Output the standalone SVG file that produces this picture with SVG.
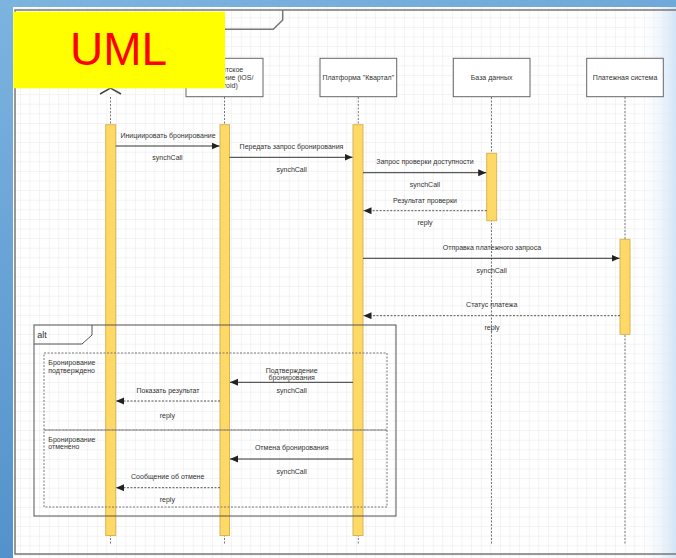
<svg xmlns="http://www.w3.org/2000/svg" width="676" height="558" viewBox="0 0 676 558">
<defs>
<linearGradient id="bg" x1="0" y1="0" x2="0.3" y2="1">
<stop offset="0" stop-color="#7db3df"/>
<stop offset="1" stop-color="#4f8fca"/>
</linearGradient>
<linearGradient id="fade" x1="0" y1="0" x2="1" y2="0">
<stop offset="0" stop-color="#ffffff" stop-opacity="0"/>
<stop offset="1" stop-color="#d2e4f6" stop-opacity="1"/>
</linearGradient>
<pattern id="grid" width="9.6" height="9.6" patternUnits="userSpaceOnUse" x="0.7" y="7.7">
<path d="M0,0 H9.6 M0,0 V9.6" fill="none" stroke="#e8e8e8" stroke-width="1"/>
</pattern>
<marker id="ah" markerWidth="9" markerHeight="8" refX="8" refY="3.5" orient="auto" markerUnits="userSpaceOnUse">
<path d="M0,0 L8,3.5 L0,7 z" fill="#222"/>
</marker>
</defs>
<style>
.lbl{font-family:"Liberation Sans",Arial,sans-serif;font-size:7px;fill:#333;text-anchor:middle}
.lbll{font-family:"Liberation Sans",Arial,sans-serif;font-size:7px;fill:#333}
.box{fill:#fff;stroke:#666;stroke-width:1}
.life{stroke:#777;stroke-width:1;stroke-dasharray:2 1.5;fill:none}
.act{fill:#ffd966;stroke:#d6b656;stroke-width:1}
.sync{stroke:#333;stroke-width:1;fill:none;marker-end:url(#ah)}
.reply{stroke:#555;stroke-width:1;stroke-dasharray:2 1.5;fill:none;marker-end:url(#ah)}
.op{fill:none;stroke:#777;stroke-width:1;stroke-dasharray:2 1.5}
</style>
<rect x="0" y="0" width="676" height="558" fill="url(#bg)"/>
<rect x="13" y="7" width="663" height="551" fill="#ffffff"/>
<rect x="13" y="7" width="663" height="551" fill="url(#grid)"/>
<rect x="636" y="7" width="40" height="551" fill="url(#fade)"/>

<g id="frame">
<path d="M676,10 H15 V554 H676" fill="none" stroke="#777" stroke-width="1.5"/>
<path d="M15,29.3 H273.3 L282.7,20 V10" fill="none" stroke="#777" stroke-width="1.5"/>
</g>

<g id="lifelines">
<line class="life" x1="110.5" y1="97" x2="110.5" y2="545"/>
<line class="life" x1="224.5" y1="97" x2="224.5" y2="545"/>
<line class="life" x1="358.3" y1="97" x2="358.3" y2="545"/>
<line class="life" x1="491.5" y1="97" x2="491.5" y2="545"/>
<line class="life" x1="625" y1="97" x2="625" y2="545"/>
</g>

<g id="actor">
<path d="M100,94 L110.5,88 L121,94" fill="none" stroke="#444" stroke-width="1.5"/>
</g>

<g id="node-app">
<rect class="box" x="186" y="58.3" width="77" height="38.4"/>
<text class="lbl" x="224.5" y="71.5">Клиентское</text>
<text class="lbl" x="224.5" y="80">приложение (iOS/</text>
<text class="lbl" x="224.5" y="87.8">Android)</text>
</g>
<g id="node-platform">
<rect class="box" x="320" y="58.3" width="76.7" height="38.4"/>
<text class="lbl" x="358.3" y="80.2">Платформа "Квартал"</text>
</g>
<g id="node-db">
<rect class="box" x="453.3" y="58.3" width="76.7" height="38.4"/>
<text class="lbl" x="491.6" y="80.2">База данных</text>
</g>
<g id="node-pay">
<rect class="box" x="586.7" y="58.3" width="76.6" height="38.4"/>
<text class="lbl" x="625" y="80.2">Платежная система</text>
</g>

<g id="activations">
<rect class="act" x="105.7" y="124.7" width="10" height="410.8"/>
<rect class="act" x="220" y="124.7" width="9.5" height="410.8"/>
<rect class="act" x="353" y="124.7" width="10" height="410.8"/>
<rect class="act" x="486.7" y="153.3" width="10" height="67.4"/>
<rect class="act" x="620" y="239.3" width="10" height="95"/>
</g>

<g id="alt-frame">
<rect x="34" y="325" width="362" height="191" fill="none" stroke="#555" stroke-width="1"/>
<path d="M34,344 H82 L92,335 V325" fill="none" stroke="#555" stroke-width="1"/>
<text class="lbll" x="37.3" y="337.5" style="font-size:9px">alt</text>
<rect class="op" x="44" y="353" width="343" height="77"/>
<rect class="op" x="44" y="430" width="343" height="77"/>
<text class="lbll" x="48.3" y="365">Бронирование</text>
<text class="lbll" x="48.3" y="372.6">подтверждено</text>
<text class="lbll" x="48.3" y="441.5">Бронирование</text>
<text class="lbll" x="48.3" y="448.8">отменено</text>
</g>

<g id="connectors">
<line class="sync" x1="115.7" y1="146" x2="219.5" y2="146"/>
<text class="lbl" x="168" y="137.5">Инициировать бронирование</text>
<text class="lbl" x="167.5" y="159.8">synchCall</text>

<line class="sync" x1="229.5" y1="157.3" x2="352.5" y2="157.3"/>
<text class="lbl" x="291.5" y="148.5">Передать запрос бронирования</text>
<text class="lbl" x="291.7" y="171.8">synchCall</text>

<line class="sync" x1="363" y1="172.7" x2="486.2" y2="172.7"/>
<text class="lbl" x="425" y="164.2">Запрос проверки доступности</text>
<text class="lbl" x="425" y="186.8">synchCall</text>

<line class="reply" x1="486.7" y1="210.7" x2="363.5" y2="210.7"/>
<text class="lbl" x="425" y="202.5">Результат проверки</text>
<text class="lbl" x="425" y="225.2">reply</text>

<line class="sync" x1="363" y1="258.3" x2="619.5" y2="258.3"/>
<text class="lbl" x="492" y="250.2">Отправка платежного запроса</text>
<text class="lbl" x="491.7" y="272.5">synchCall</text>

<line class="reply" x1="620" y1="315.7" x2="363.5" y2="315.7"/>
<text class="lbl" x="491.7" y="306.8">Статус платежа</text>
<text class="lbl" x="492" y="330.2">reply</text>

<line class="sync" x1="353" y1="382.3" x2="230" y2="382.3"/>
<text class="lbl" x="291.7" y="372.8">Подтверждение</text>
<text class="lbl" x="291.7" y="380.3">бронирования</text>
<text class="lbl" x="291.7" y="393.2">synchCall</text>

<line class="reply" x1="220" y1="401" x2="116" y2="401"/>
<text class="lbl" x="168" y="392.5">Показать результат</text>
<text class="lbl" x="167.3" y="417.5">reply</text>

<line class="sync" x1="353" y1="459" x2="230" y2="459"/>
<text class="lbl" x="291.7" y="450.2">Отмена бронирования</text>
<text class="lbl" x="291.7" y="473.5">synchCall</text>

<line class="reply" x1="220" y1="487.7" x2="116" y2="487.7"/>
<text class="lbl" x="167.7" y="478.5">Сообщение об отмене</text>
<text class="lbl" x="167.3" y="501.8">reply</text>
</g>

<g id="uml-badge">
<rect x="13.3" y="11.7" width="211.7" height="76.6" fill="#ffff00"/>
<text x="70" y="65" style="font-family:'Liberation Sans',Arial,sans-serif;font-size:46px;fill:#ff0000">UML</text>
</g>
</svg>
